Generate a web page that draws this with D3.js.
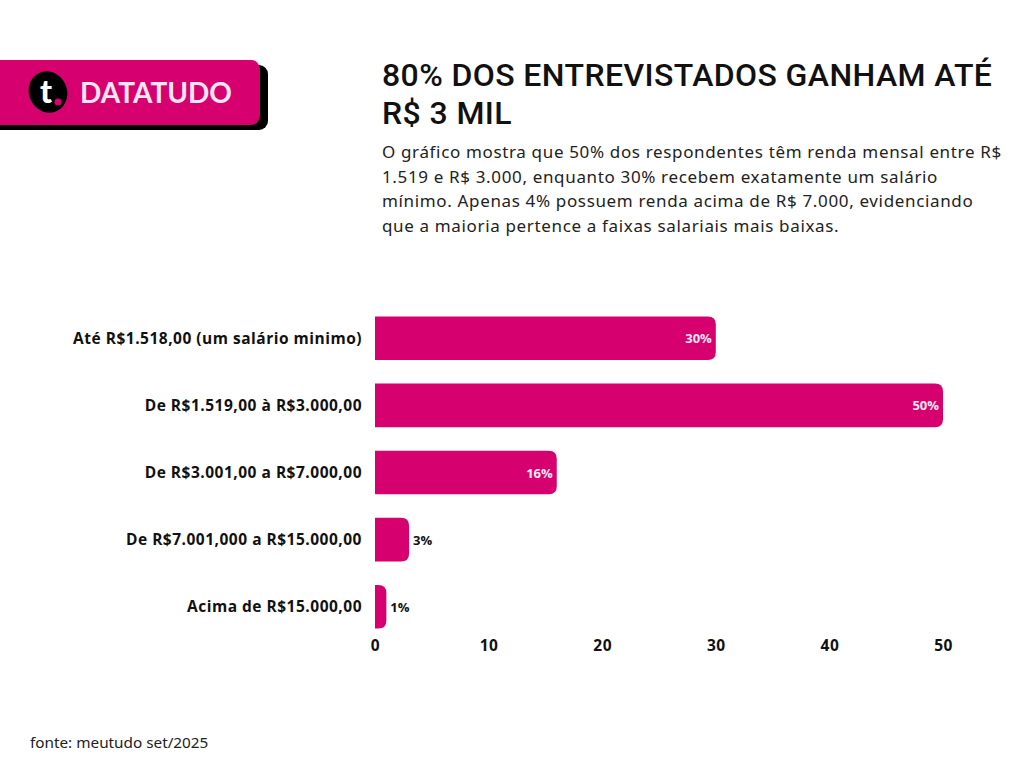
<!DOCTYPE html>
<html lang="pt">
<head>
<meta charset="UTF-8" />
<title>80% dos entrevistados ganham até R$ 3 mil</title>
<script src="https://d3js.org/d3.v7.min.js"></script>
<style>
    body { margin: 0; background: #fff; }
    svg { display: block; }
</style>
</head>
<body>
<div id="chart"></div>
<script>
    const categories = [
        "Até R$1.518,00 (um salário minimo)",
        "De R$1.519,00 à R$3.000,00",
        "De R$3.001,00 a R$7.000,00",
        "De R$7.001,000 a R$15.000,00",
        "Acima de R$15.000,00"
    ];
    const values = [30, 50, 16, 3, 1];
    const ticks = [0, 10, 20, 30, 40, 50];

    const pink = "#d6006f";
    const W = 1024, H = 768;

    const svg = d3.select("#chart").append("svg")
        .attr("width", W).attr("height", H);

    // logo
    const logo = svg.append("g");
    logo.append("rect").attr("x", -20).attr("y", 65).attr("width", 288).attr("height", 65)
        .attr("rx", 9).attr("fill", "#000");
    logo.append("rect").attr("x", -20).attr("y", 60).attr("width", 280).attr("height", 65)
        .attr("rx", 9).attr("fill", pink);
    logo.append("ellipse").attr("cx", 48).attr("cy", 92).attr("rx", 19).attr("ry", 21)
        .attr("transform", "rotate(-25,48,92)").attr("fill", "#000");
    logo.append("text").attr("x", 46).attr("y", 103)
        .attr("text-anchor", "middle")
        .style("font-family", "Lato").style("font-weight", 900).style("font-size", "32px")
        .attr("fill", "#fff").text("t");
    logo.append("circle").attr("cx", 58).attr("cy", 102).attr("r", 3.5).attr("fill", pink);
    logo.append("text").attr("x", 80).attr("y", 103)
        .style("font-family", "Lato").style("font-weight", 700).style("font-size", "28px")
        .attr("fill", "#fde6f3").text("DATATUDO");

    // title + subtitle
    const title = svg.append("text")
        .style("font-family", "Roboto").style("font-weight", 500).style("font-size", "32px")
        .style("letter-spacing", "0.4px")
        .attr("fill", "#111");
    ["80% DOS ENTREVISTADOS GANHAM ATÉ", "R$ 3 MIL"].forEach((t, i) => {
        title.append("tspan").attr("x", 382).attr("y", 86 + i * 38).text(t);
    });
    const sub = svg.append("text")
        .style("font-family", "Noto Sans").style("font-size", "17px")
        .style("letter-spacing", "0.65px")
        .attr("fill", "#222");
    [
        "O gráfico mostra que 50% dos respondentes têm renda mensal entre R$",
        "1.519 e R$ 3.000, enquanto 30% recebem exatamente um salário",
        "mínimo. Apenas 4% possuem renda acima de R$ 7.000, evidenciando",
        "que a maioria pertence a faixas salariais mais baixas."
    ].forEach((t, i) => {
        sub.append("tspan").attr("x", 382).attr("y", 158 + i * 24.5).text(t);
    });

    // chart
    const x = d3.scaleLinear().domain([0, 50]).range([375, 943]);
    const y = d3.scaleBand().domain(categories).range([305, 640]).paddingInner(0.35).paddingOuter(0.17);

    const bh = y.bandwidth(), r = 8;
    function barPath(d, i) {
        const x0 = x(0), x1 = x(values[i]), y0 = y(d), y1 = y0 + bh;
        const rr = Math.min(r, (x1 - x0));
        return `M${x0},${y0}H${x1 - rr}Q${x1},${y0} ${x1},${y0 + rr}V${y1 - rr}Q${x1},${y1} ${x1 - rr},${y1}H${x0}Z`;
    }
    svg.selectAll(".bar").data(categories).enter().append("path")
        .attr("class", "bar").attr("d", barPath).attr("fill", pink);

    svg.selectAll(".val").data(categories).enter().append("text")
        .attr("x", (d, i) => values[i] > 10 ? x(values[i]) - 4 : x(values[i]) + 4)
        .attr("y", d => y(d) + bh / 2 + 5)
        .attr("text-anchor", (d, i) => values[i] > 10 ? "end" : "start")
        .style("font-family", "Open Sans").style("font-weight", 700).style("font-size", "13px")
        .attr("fill", (d, i) => values[i] > 10 ? "#fde6f3" : "#111")
        .text((d, i) => values[i] + "%");

    const yAxis = svg.append("g").attr("transform", `translate(${x(0)},0)`)
        .call(d3.axisLeft(y).tickSize(0).tickPadding(13));
    yAxis.select(".domain").remove();
    yAxis.selectAll("text")
        .style("font-family", "Open Sans").style("font-weight", 700).style("font-size", "15.5px")
        .style("letter-spacing", "0.5px")
        .attr("fill", "#111").attr("dy", "0.35em");

    const xAxis = svg.append("g").attr("transform", `translate(0,${y.range()[1] - 8})`)
        .call(d3.axisBottom(x).tickValues(ticks).tickSize(0).tickPadding(8));
    xAxis.select(".domain").remove();
    xAxis.selectAll("text")
        .style("font-family", "Open Sans").style("font-weight", 700).style("font-size", "15.5px")
        .style("letter-spacing", "0.5px")
        .attr("fill", "#111");

    svg.append("text").attr("x", 30).attr("y", 748)
        .style("font-family", "Noto Sans").style("font-size", "15.3px")
        .attr("fill", "#222").text("fonte: meutudo set/2025");
</script>
</body>
</html>
